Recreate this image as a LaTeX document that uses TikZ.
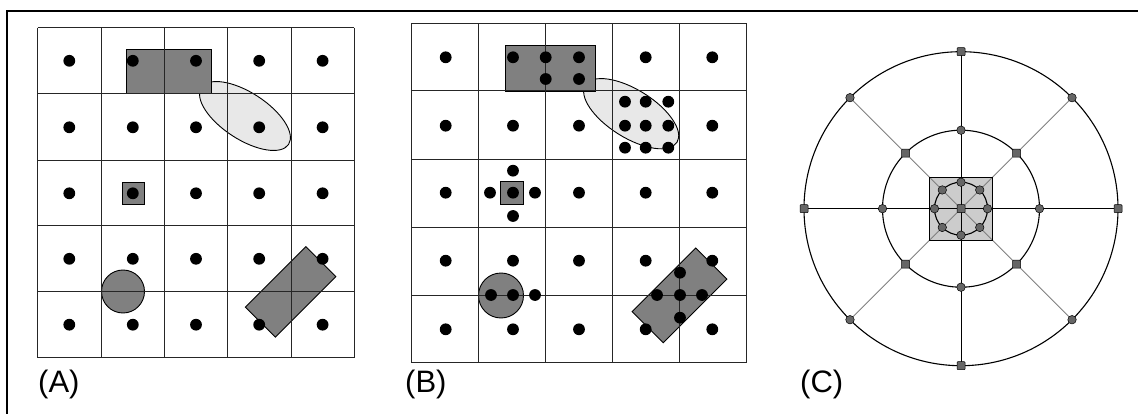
\documentclass[tikz,border=0pt]{standalone}
\usepackage{fontspec}
\setmainfont{Liberation Sans}
\usetikzlibrary{calc}
\definecolor{darkfill}{gray}{0.5}
\definecolor{lightfill}{gray}{0.91}
\definecolor{sqfill}{gray}{0.8}
\definecolor{mkfill}{gray}{0.4}
\definecolor{diag}{gray}{0.5}
\begin{document}
\begin{tikzpicture}[x=1pt,y=-1pt,
  gridline/.style={line width=1pt, black!85},
  shapeline/.style={line width=0.9pt, black},
  darkshape/.style={shapeline, fill=darkfill},
  lightshape/.style={shapeline, fill=lightfill},
  blackdot/.style={fill=black},
  ring/.style={line width=1.1pt, black},
  spoke/.style={line width=0.9pt, black},
  dspoke/.style={line width=0.9pt, diag},
  rmark/.style={circle, draw=black, fill=mkfill, line width=0.5pt, minimum size=8.5pt, inner sep=0pt},
  smark/.style={rectangle, rounded corners=0.8pt, draw=black, fill=mkfill, line width=0.5pt, minimum size=8pt, inner sep=0pt},
  lab/.style={anchor=base west, inner sep=0pt, font=\fontsize{31}{31}\selectfont}
]
\useasboundingbox (0,0) rectangle (1138,414);
% frame
\draw[line width=2pt] (7,414) -- (7,11) -- (1138,11);

% ================= Panel A =================
\draw[lightshape, rotate around={-33:(245,116)}] (245,116) ellipse [x radius=52, y radius=23.4];
\draw[darkshape] (126,49.3) rectangle (211,93.7);
\draw[darkshape] (122,182.3) rectangle (144,204.7);
\draw[darkshape] (123,291.5) circle (21.5);
\draw[darkshape, rotate around={45:(290.6,291.9)}] (247.85,270.7) rectangle (333.35,313.1);
\foreach \x in {37.7,101,164.7,227.3,291,354.3}
  \draw[gridline] (\x,27.7) -- (\x,357.7);
\foreach \y in {27.7,94,160.7,226,291.7,357.7}
  \draw[gridline] (37.7,\y) -- (354.3,\y);
\foreach \x in {69.3,132.8,196,259.2,322.6}
  \foreach \y in {60.8,127.3,193.3,258.8,324.7}
    \fill[blackdot] (\x,\y) circle (5.9);
\node[lab] (la) at (38,392) {(A)};

% ================= Panel B =================
\draw[lightshape, rotate around={-32:(631.2,113.7)}] (631.2,113.7) ellipse [x radius=54, y radius=24];
\draw[darkshape] (505.7,45.7) rectangle (595.7,91.7);
\draw[darkshape] (500.7,181.7) rectangle (523.3,204.3);
\draw[darkshape] (501,295.5) circle (22.5);
\draw[darkshape, rotate around={45:(679.5,295.3)}] (634.5,273.3) rectangle (724.5,317.3);
\foreach \x in {411,478.3,545.7,612.3,679.7,746.7}
  \draw[gridline] (\x,23.3) -- (\x,362.7);
\foreach \y in {23.3,90.7,160,227.7,295,362.7}
  \draw[gridline] (411,\y) -- (746.7,\y);
\foreach \x in {445.7,513,579,645.7,712.3}
  \foreach \y in {57.3,125.7,192.7,260.7,329.3}
    \fill[blackdot] (\x,\y) circle (5.9);
% refined points
\foreach \p in {(545.7,57.3),(545.7,79),(579,79),
                (625,101.7),(645.7,101.7),(668.3,101.7),
                (625,125.7),(668.3,125.7),
                (625,147.7),(645.7,147.7),(668.3,147.7),
                (513,170.7),(490,192.7),(535,192.7),(513,216),
                (491,295),(513,295),(535,295),
                (680,272.7),(657,295),(680,295),(702,295),(680,317.7)}
  \fill[blackdot] \p circle (5.9);
\node[lab] (lb) at (405,392) {(B)};

% ================= Panel C =================
\coordinate (c) at (961,208.7);
\fill[sqfill] (929.7,177.4) rectangle (992.3,240);
\foreach \a in {45,135,225,315}
  \draw[dspoke] (c) -- ++(\a:157);
\foreach \a in {0,90,180,270}
  \draw[spoke] (c) -- ++(\a:157);
\draw[line width=0.9pt] (929.7,177.4) rectangle (992.3,240);
\draw[ring] (c) circle (157);
\draw[ring] (c) circle (78.5);
\draw[ring] (c) circle (26.5);
% markers
\node[smark] (m0) at (c) {};
\foreach \a [count=\i] in {0,45,...,315}
  \node[rmark] (s\i) at ($(c)+(\a:26.5)$) {};
\foreach \a [count=\i] in {0,90,180,270}
  \node[rmark] (ic\i) at ($(c)+(\a:78.5)$) {};
\foreach \a [count=\i] in {45,135,225,315}
  \node[smark] (id\i) at ($(c)+(\a:78.5)$) {};
\foreach \a [count=\i] in {0,90,180,270}
  \node[smark] (oc\i) at ($(c)+(\a:157)$) {};
\foreach \a [count=\i] in {45,135,225,315}
  \node[rmark] (od\i) at ($(c)+(\a:157)$) {};
\node[lab] (lc) at (800,392) {(C)};
\end{tikzpicture}
\end{document}
